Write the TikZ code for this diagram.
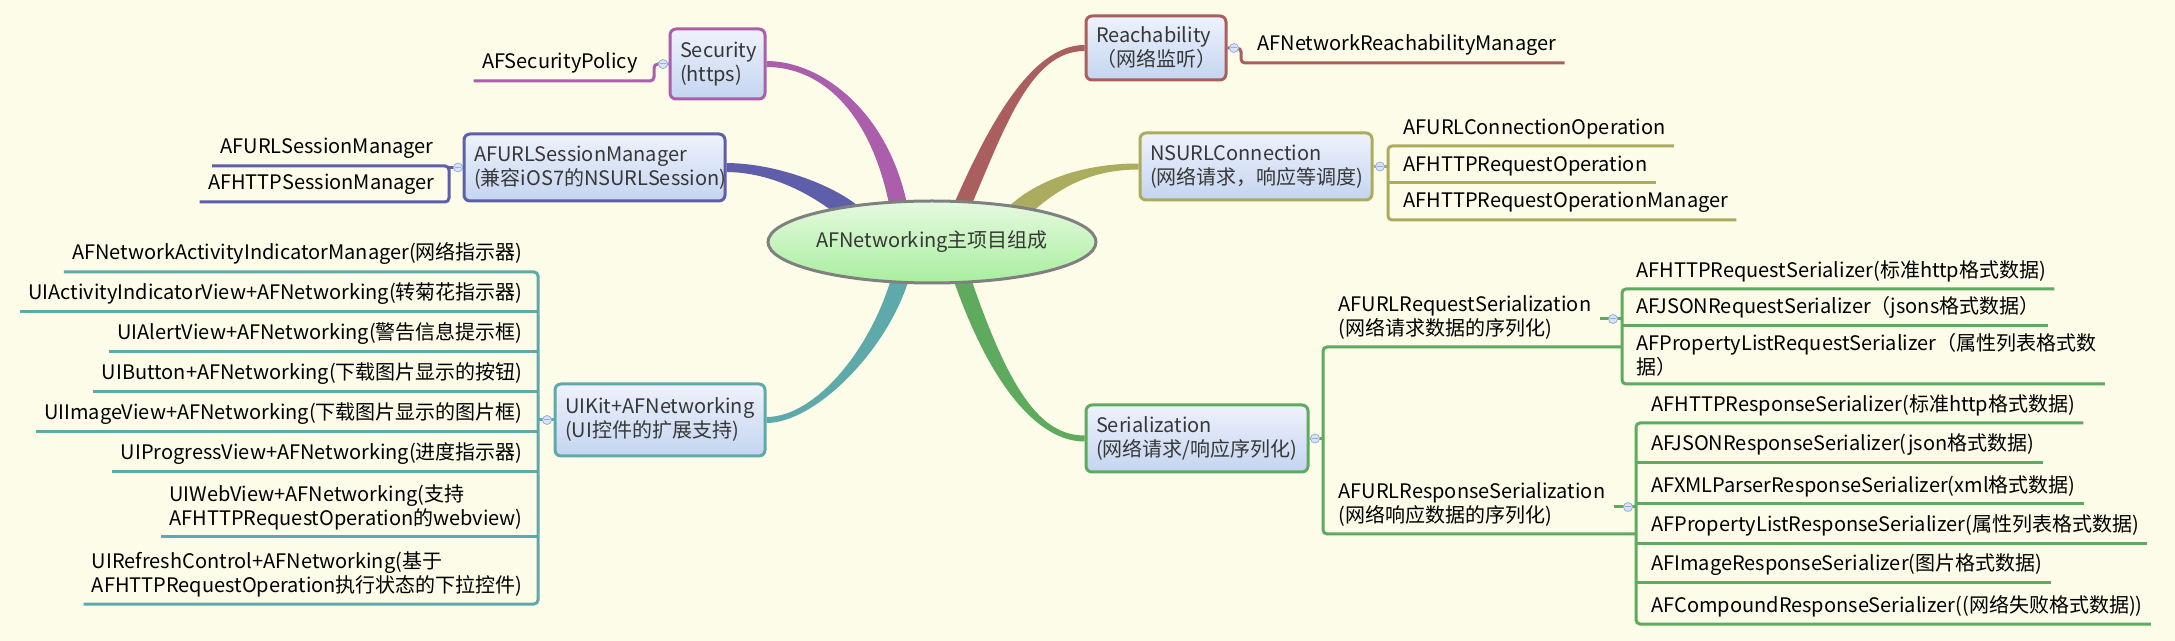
\documentclass[tikz,border=0pt]{standalone}
\usepackage{fontspec}
\setmainfont{Noto Sans CJK SC}
\usetikzlibrary{shapes.geometric,calc,backgrounds}

\definecolor{bgc}{RGB}{252,252,232}
\definecolor{rootbd}{RGB}{128,128,128}
\definecolor{roottop}{RGB}{230,250,224}
\definecolor{rootbot}{RGB}{168,238,158}
\definecolor{boxtop}{RGB}{238,242,252}
\definecolor{boxbot}{RGB}{196,213,240}
\definecolor{boxtxt}{RGB}{55,55,55}
\definecolor{csec}{RGB}{170,94,172}
\definecolor{cses}{RGB}{94,94,170}
\definecolor{crea}{RGB}{170,94,94}
\definecolor{cnsc}{RGB}{172,172,94}
\definecolor{cuik}{RGB}{94,170,170}
\definecolor{cser}{RGB}{94,170,94}
\definecolor{foldbg}{RGB}{218,228,248}
\definecolor{foldbd}{RGB}{150,175,225}

\tikzset{
  root/.style={ellipse, draw=rootbd, line width=1.5pt, top color=roottop, bottom color=rootbot,
    minimum width=152pt, minimum height=41pt, inner sep=0pt, text=boxtxt},
  topic/.style={rectangle, draw=#1, rounded corners=3pt, line width=1.5pt, top color=boxtop,
    bottom color=boxbot, text=boxtxt, align=left, inner xsep=5pt, inner ysep=2pt},
  leaf/.style={inner xsep=4pt, inner ysep=3.5pt, align=left},
  twig/.style={draw=#1, line width=1.5pt, rounded corners=2pt},
  fold/.style={circle, draw=foldbd, fill=foldbg, line width=.4pt, inner sep=0pt, minimum size=4.5pt,
    path picture={\draw[foldbd, line width=.5pt] ([xshift=-1.3pt]path picture bounding box.center) -- ([xshift=1.3pt]path picture bounding box.center);}}
}

% tapered main branch: style, start, start half width, control 1, control 2, end, end half width
\newcommand{\mapbranch}[7]{%
  \fill[#1] ($(#2)+(#3)$) .. controls ($(#4)+(#3)$) and ($(#5)+(#7)$) .. ($(#6)+(#7)$)
    -- ($(#6)-(#7)$) .. controls ($(#5)-(#7)$) and ($(#4)-(#3)$) .. ($(#2)-(#3)$) -- cycle;}

\begin{document}
\begin{tikzpicture}[x=0.5pt,y=0.5pt,yscale=-1,font=\fontsize{10pt}{12pt}\selectfont]
\useasboundingbox (0,0) rectangle (2175,641);

%Shape: Ellipse
\node[root] (root) at (932,242) {AFNetworking主项目组成};

%Rounded Rect
\node[topic=csec, text width=37.5pt, minimum height=35pt] (sec) at (717.5,64) {Security\\(https)};
%Rounded Rect
\node[topic=cses, text width=120.5pt, minimum height=33.5pt] (ses) at (594.5,167.5) {AFURLSessionManager\\(兼容iOS7的NSURLSession)};
%Rounded Rect
\node[topic=crea, text width=60pt, minimum height=32pt] (rea) at (1156,48) {Reachability\\（网络监听）};
%Rounded Rect
\node[topic=cnsc, text width=106pt, minimum height=33.5pt] (nsc) at (1256,166.5) {NSURLConnection\\(网络请求，响应等调度)};
%Rounded Rect
\node[topic=cuik, text width=95pt, minimum height=36pt] (uik) at (660,420) {UIKit+AFNetworking\\(UI控件的扩展支持)};
%Rounded Rect
\node[topic=cser, text width=101pt, minimum height=33.5pt] (ser) at (1197,438.5) {Serialization\\(网络请求/响应序列化)};

% Text Node
\node[leaf, anchor=south east] (sp) at (646,81) {AFSecurityPolicy};
% Text Node
\node[leaf, anchor=south east] (m1) at (442,166) {AFURLSessionManager};
\node[leaf, anchor=south east] (m2) at (443,202) {AFHTTPSessionManager};
% Text Node
\node[leaf, anchor=south west] (r1) at (1249,63) {AFNetworkReachabilityManager};
% Text Node
\node[leaf, anchor=south west] (n1) at (1395,146) {AFURLConnectionOperation};
\node[leaf, anchor=south west] (n2) at (1395,183) {AFHTTPRequestOperation};
\node[leaf, anchor=south west] (n3) at (1395,220) {AFHTTPRequestOperationManager};
% Text Node
\node[leaf, anchor=south east] (k1) at (531,272) {AFNetworkActivityIndicatorManager(网络指示器)};
\node[leaf, anchor=south east] (k2) at (531,312) {UIActivityIndicatorView+AFNetworking(转菊花指示器)};
\node[leaf, anchor=south east] (k3) at (531,352) {UIAlertView+AFNetworking(警告信息提示框)};
\node[leaf, anchor=south east] (k4) at (531,392) {UIButton+AFNetworking(下载图片显示的按钮)};
\node[leaf, anchor=south east] (k5) at (531,432) {UIImageView+AFNetworking(下载图片显示的图片框)};
\node[leaf, anchor=south east] (k6) at (531,472) {UIProgressView+AFNetworking(进度指示器)};
\node[leaf, anchor=south east] (k7) at (531,537) {UIWebView+AFNetworking(支持\\AFHTTPRequestOperation的webview)};
\node[leaf, anchor=south east] (k8) at (531,604) {UIRefreshControl+AFNetworking(基于\\AFHTTPRequestOperation执行状态的下拉控件)};
% Text Node
\node[leaf, anchor=south west] (s1) at (1330,347) {AFURLRequestSerialization\\(网络请求数据的序列化)};
\node[leaf, anchor=south west] (s2) at (1330,534) {AFURLResponseSerialization\\(网络响应数据的序列化)};
% Text Node
\node[leaf, anchor=south west] (q1) at (1628,289) {AFHTTPRequestSerializer(标准http格式数据)};
\node[leaf, anchor=south west] (q2) at (1628,326) {AFJSONRequestSerializer（jsons格式数据）};
\node[leaf, anchor=south west] (q3) at (1628,384) {AFPropertyListRequestSerializer（属性列表格式数\\据）};
% Text Node
\node[leaf, anchor=south west] (p1) at (1643,423) {AFHTTPResponseSerializer(标准http格式数据)};
\node[leaf, anchor=south west] (p2) at (1643,463) {AFJSONResponseSerializer(json格式数据)};
\node[leaf, anchor=south west] (p3) at (1643,504) {AFXMLParserResponseSerializer(xml格式数据)};
\node[leaf, anchor=south west] (p4) at (1643,544) {AFPropertyListResponseSerializer(属性列表格式数据)};
\node[leaf, anchor=south west] (p5) at (1643,583) {AFImageResponseSerializer(图片格式数据)};
\node[leaf, anchor=south west] (p6) at (1643,624) {AFCompoundResponseSerializer((网络失败格式数据))};

\coordinate (sbar) at (654,64);
\coordinate (mbar) at (449,167.5);
\coordinate (rbar) at (1241,48);
\coordinate (nbar) at (1388,166.5);
\coordinate (kbar) at (538,420);
\coordinate (zbar) at (1323,438.5);
\coordinate (qbar) at (1622,319);
\coordinate (pbar) at (1636,507);

%Straight Lines
\draw[twig=csec] (sec.west) -- (sbar) -- (sbar |- sp.south) -- (sp.south west);
%Straight Lines
\draw[twig=cses] (ses.west) -- (mbar);
\draw[twig=cses] (m1.south west) -- (m1.south -| mbar) -- (m2.south -| mbar) -- (m2.south west);
%Straight Lines
\draw[twig=crea] (rea.east) -- (rbar) -- (rbar |- r1.south) -- (r1.south east);
%Straight Lines
\draw[twig=cnsc] (nsc.east) -- (nbar);
\draw[twig=cnsc] (n1.south east) -- (n1.south -| nbar) -- (n3.south -| nbar) -- (n3.south east);
\draw[twig=cnsc] (n2.south east) -- (n2.south -| nbar);
%Straight Lines
\draw[twig=cuik] (uik.west) -- (kbar);
\draw[twig=cuik] (k1.south west) -- (k1.south -| kbar) -- (k8.south -| kbar) -- (k8.south west);
\draw[twig=cuik] (k2.south west) -- (k2.south -| kbar);
\draw[twig=cuik] (k3.south west) -- (k3.south -| kbar);
\draw[twig=cuik] (k4.south west) -- (k4.south -| kbar);
\draw[twig=cuik] (k5.south west) -- (k5.south -| kbar);
\draw[twig=cuik] (k6.south west) -- (k6.south -| kbar);
\draw[twig=cuik] (k7.south west) -- (k7.south -| kbar);
%Straight Lines
\draw[twig=cser] (ser.east) -- (zbar);
\draw[twig=cser] (s1.south -| qbar) -- (s1.south -| zbar) -- (s2.south -| zbar) -- (s2.south -| pbar);
\draw[twig=cser] (s1.east |- qbar) -- (qbar);
\draw[twig=cser] (s2.east |- pbar) -- (pbar);
\draw[twig=cser] (q1.south east) -- (q1.south -| qbar) -- (q3.south -| qbar) -- (q3.south east);
\draw[twig=cser] (q2.south east) -- (q2.south -| qbar);
\draw[twig=cser] (p1.south east) -- (p1.south -| pbar) -- (p6.south -| pbar) -- (p6.south east);
\draw[twig=cser] (p2.south east) -- (p2.south -| pbar);
\draw[twig=cser] (p3.south east) -- (p3.south -| pbar);
\draw[twig=cser] (p4.south east) -- (p4.south -| pbar);
\draw[twig=cser] (p5.south east) -- (p5.south -| pbar);

% collapse markers
\node[fold] (sfold) at (663,64) {};
\node[fold] (mfold) at (458,167.5) {};
\node[fold] (rfold) at (1234,48) {};
\node[fold] (nfold) at (1380,166.5) {};
\node[fold] (kfold) at (547,420) {};
\node[fold] (zfold) at (1315,438.5) {};
\node[fold] (qfold) at (1613,319) {};
\node[fold] (pfold) at (1628,507) {};

\coordinate (bsec) at ($(root)!.8!(root.135)$);
\coordinate (bses) at ($(root)!.8!(root.161)$);
\coordinate (brea) at ($(root)!.8!(root.49)$);
\coordinate (bnsc) at ($(root)!.8!(root.18)$);
\coordinate (buik) at ($(root)!.8!(root.227)$);
\coordinate (bser) at ($(root)!.8!(root.311)$);

\begin{pgfonlayer}{background}
\fill[bgc] (0,0) rectangle (2175,641);
%Curve Lines
\mapbranch{csec}{bsec}{-9,0}{880,110}{820,64}{sec.east}{0,3}
\mapbranch{cses}{bses}{-6.3,7.8}{830,195}{780,168}{ses.east}{0,4.5}
\mapbranch{crea}{brea}{-9,0}{995,130}{1030,48}{rea.west}{0,-3}
\mapbranch{cnsc}{bnsc}{-6.4,-7.7}{1040,190}{1080,166.5}{nsc.west}{0,-3}
\mapbranch{cuik}{buik}{9,0}{880,350}{815,420}{uik.east}{0,3}
\mapbranch{cser}{bser}{9,0}{1000,390}{1040,438.5}{ser.west}{0,-3}
\end{pgfonlayer}

\end{tikzpicture}
\end{document}
